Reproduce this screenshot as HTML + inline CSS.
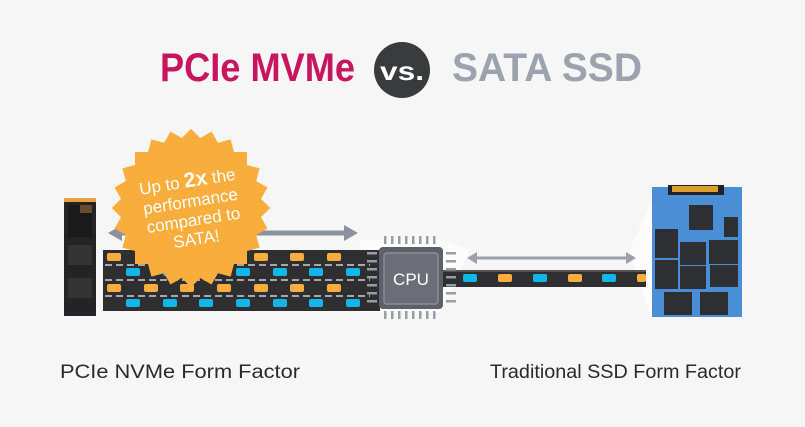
<!DOCTYPE html>
<html><head><meta charset="utf-8"><style>
html,body{margin:0;padding:0;background:#f6f6f6;}
svg{display:block;font-family:"Liberation Sans",sans-serif;}
</style></head><body>
<svg width="805" height="427" viewBox="0 0 805 427">
<rect width="805" height="427" fill="#f6f6f6"/>
<!-- title -->
<text x="160" y="81" font-size="40" font-weight="bold" fill="#c8155f" textLength="195" lengthAdjust="spacingAndGlyphs">PCIe MVMe</text>
<circle cx="402" cy="70" r="28" fill="#3a3b3d"/>
<text x="402" y="80" font-size="26" font-weight="bold" fill="#fff" text-anchor="middle" textLength="44" lengthAdjust="spacingAndGlyphs">vs.</text>
<text x="452" y="81" font-size="40" font-weight="bold" fill="#9ca3ae" textLength="190" lengthAdjust="spacingAndGlyphs">SATA SSD</text>

<!-- white funnels -->
<polygon points="360,240 440,240 470,250 440,312 360,312" fill="#fff" opacity="0.7"/>
<polygon points="630,250 652,200 652,317 645,300" fill="#fff" opacity="0.7"/>

<!-- arrows -->
<line x1="115" y1="233" x2="350" y2="233" stroke="#8c929c" stroke-width="5"/>
<polygon points="108,233 122,225 122,241" fill="#8c929c"/>
<polygon points="358,233 344,225 344,241" fill="#8c929c"/>
<line x1="472" y1="258" x2="630" y2="258" stroke="#9ba1ab" stroke-width="3"/>
<polygon points="467,258 477,252 477,264" fill="#9ba1ab"/>
<polygon points="636,258 626,252 626,264" fill="#9ba1ab"/>

<!-- M.2 stick -->
<rect x="64" y="198" width="32" height="118" fill="#242426"/>
<rect x="64" y="198" width="32" height="4" fill="#e8a040"/>
<rect x="68" y="205" width="24" height="32" fill="#1a1a1a"/>
<rect x="68" y="245" width="24" height="20" fill="#333"/>
<rect x="68" y="278" width="24" height="20" fill="#333"/>
<rect x="80" y="205" width="12" height="8" fill="#6a4a30"/>

<!-- wide bus -->
<rect x="103" y="250" width="277" height="61" fill="#2f2f31"/>
<g stroke="#cfd0d2" stroke-width="1.5" stroke-dasharray="7,4">
<line x1="105" y1="265" x2="370" y2="265"/>
<line x1="105" y1="280" x2="370" y2="280"/>
<line x1="105" y1="296" x2="370" y2="296"/>
</g>
<g fill="#f8ad3c">
<rect x="107" y="253" width="14" height="8" rx="2"/><rect x="144" y="253" width="14" height="8" rx="2"/><rect x="180" y="253" width="14" height="8" rx="2"/><rect x="217" y="253" width="14" height="8" rx="2"/><rect x="254" y="253" width="14" height="8" rx="2"/><rect x="290" y="253" width="14" height="8" rx="2"/><rect x="327" y="253" width="14" height="8" rx="2"/>
<rect x="107" y="284" width="14" height="8" rx="2"/><rect x="144" y="284" width="14" height="8" rx="2"/><rect x="180" y="284" width="14" height="8" rx="2"/><rect x="217" y="284" width="14" height="8" rx="2"/><rect x="254" y="284" width="14" height="8" rx="2"/><rect x="290" y="284" width="14" height="8" rx="2"/><rect x="327" y="284" width="14" height="8" rx="2"/>
</g>
<g fill="#12b7ea">
<rect x="126" y="268" width="14" height="8" rx="2"/><rect x="163" y="268" width="14" height="8" rx="2"/><rect x="199" y="268" width="14" height="8" rx="2"/><rect x="236" y="268" width="14" height="8" rx="2"/><rect x="273" y="268" width="14" height="8" rx="2"/><rect x="309" y="268" width="14" height="8" rx="2"/><rect x="346" y="268" width="14" height="8" rx="2"/>
<rect x="126" y="299" width="14" height="8" rx="2"/><rect x="163" y="299" width="14" height="8" rx="2"/><rect x="199" y="299" width="14" height="8" rx="2"/><rect x="236" y="299" width="14" height="8" rx="2"/><rect x="273" y="299" width="14" height="8" rx="2"/><rect x="309" y="299" width="14" height="8" rx="2"/><rect x="346" y="299" width="14" height="8" rx="2"/>
</g>
<!-- starburst -->
<g fill="#f8ad3c" transform="translate(191,208)">
<rect x="-56" y="-56" width="112" height="112"/>
<rect x="-56" y="-56" width="112" height="112" transform="rotate(15)"/>
<rect x="-56" y="-56" width="112" height="112" transform="rotate(30)"/>
<rect x="-56" y="-56" width="112" height="112" transform="rotate(45)"/>
<rect x="-56" y="-56" width="112" height="112" transform="rotate(60)"/>
<rect x="-56" y="-56" width="112" height="112" transform="rotate(75)"/>
</g>
<g transform="translate(191,205) rotate(-9)" fill="#fff" text-anchor="middle" font-size="17">
<text x="0" y="-18">Up to <tspan font-weight="bold" font-size="21">2x</tspan> the</text>
<text x="0" y="2">performance</text>
<text x="0" y="21">compared to</text>
<text x="0" y="40">SATA!</text>
</g>

<!-- thin bus -->
<rect x="440" y="270" width="206" height="17" fill="#2f2f31"/>
<rect x="440" y="270" width="206" height="2" fill="#555"/>
<g fill="#12b7ea"><rect x="463" y="274" width="14" height="8" rx="2"/><rect x="533" y="274" width="14" height="8" rx="2"/><rect x="602" y="274" width="14" height="8" rx="2"/></g>
<g fill="#f8ad3c"><rect x="498" y="274" width="14" height="8" rx="2"/><rect x="568" y="274" width="14" height="8" rx="2"/><rect x="637" y="274" width="9" height="8" rx="2"/></g>

<!-- CPU -->
<g fill="#9a9da3">
<rect x="384" y="236" width="2.5" height="8"/><rect x="391" y="236" width="2.5" height="8"/><rect x="398" y="236" width="2.5" height="8"/><rect x="405" y="236" width="2.5" height="8"/><rect x="412" y="236" width="2.5" height="8"/><rect x="419" y="236" width="2.5" height="8"/><rect x="426" y="236" width="2.5" height="8"/><rect x="433" y="236" width="2.5" height="8"/>
<rect x="384" y="311" width="2.5" height="8"/><rect x="391" y="311" width="2.5" height="8"/><rect x="398" y="311" width="2.5" height="8"/><rect x="405" y="311" width="2.5" height="8"/><rect x="412" y="311" width="2.5" height="8"/><rect x="419" y="311" width="2.5" height="8"/><rect x="426" y="311" width="2.5" height="8"/><rect x="433" y="311" width="2.5" height="8"/>
<rect x="367" y="252" width="10" height="2.5"/><rect x="367" y="260" width="10" height="2.5"/><rect x="367" y="268" width="10" height="2.5"/><rect x="367" y="276" width="10" height="2.5"/><rect x="367" y="284" width="10" height="2.5"/><rect x="367" y="292" width="10" height="2.5"/><rect x="367" y="300" width="10" height="2.5"/>
<rect x="446" y="252" width="10" height="2.5"/><rect x="446" y="260" width="10" height="2.5"/><rect x="446" y="268" width="10" height="2.5"/><rect x="446" y="276" width="10" height="2.5"/><rect x="446" y="284" width="10" height="2.5"/><rect x="446" y="292" width="10" height="2.5"/><rect x="446" y="300" width="10" height="2.5"/>
</g>
<rect x="379" y="247" width="64" height="62" rx="4" fill="#5d6068"/>
<rect x="384" y="253" width="54" height="51" rx="3" fill="#6b6e76" stroke="#8a8d94" stroke-width="1.5"/>
<text x="411" y="285" font-size="17" fill="#fff" text-anchor="middle">CPU</text>

<!-- SATA SSD board -->
<path d="M652,187 H742 V317 H652 Z" fill="#4a8fd6"/>
<rect x="668" y="185" width="56" height="10" fill="#222"/>
<rect x="672" y="186" width="46" height="6" fill="#d9a030"/>
<rect x="689" y="205" width="24" height="25" fill="#2e2f33"/>
<rect x="724" y="217" width="14" height="20" fill="#2e2f33"/>
<rect x="655" y="229" width="23" height="29" fill="#2e2f33"/>
<rect x="680" y="242" width="26" height="23" fill="#2e2f33"/>
<rect x="709" y="240" width="29" height="24" fill="#2e2f33"/>
<rect x="655" y="260" width="23" height="29" fill="#2e2f33"/>
<rect x="680" y="266" width="26" height="23" fill="#2e2f33"/>
<rect x="710" y="265" width="28" height="22" fill="#2e2f33"/>
<rect x="664" y="292" width="28" height="23" fill="#2e2f33"/>
<rect x="700" y="292" width="28" height="23" fill="#2e2f33"/>

<!-- labels -->
<text x="60" y="378" font-size="19" fill="#2a2a2a" textLength="240" lengthAdjust="spacingAndGlyphs">PCIe NVMe Form Factor</text>
<text x="490" y="378" font-size="19" fill="#2a2a2a" textLength="251" lengthAdjust="spacingAndGlyphs">Traditional SSD Form Factor</text>
</svg>
</body></html>
